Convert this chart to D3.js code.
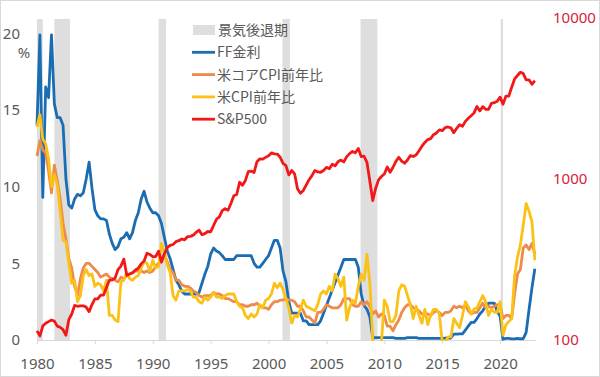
<!DOCTYPE html>
<html>
<head>
<meta charset="utf-8">
<script src="https://cdn.jsdelivr.net/npm/d3@7"></script>
<style>
  body { margin: 0; background: #fff; }
  svg { display: block; font-family: 'Noto Sans', 'Noto Sans CJK JP', sans-serif; }
</style>
</head>
<body>
<div id="svg-container"></div>
<script>
// quarterly points, Jan / Apr / Jul / Oct, 1980 .. 2023 Q1
const startYear = 1980

const ffRate = [
  14.0, 19.9, 9.3, 16.5,  15.8, 19.9, 15.4, 14.5,  14.5, 14.0, 10.5, 8.8,  8.6, 9.2, 9.5, 9.4,
  9.6, 10.5, 11.6, 9.9,  8.5, 8.1, 7.9, 7.9,  7.8, 6.9, 6.3, 5.9,  6.1, 6.6, 6.7, 7.0,
  6.6, 7.0, 7.8, 8.3,  9.2, 9.7, 9.0, 8.6,  8.3, 8.3, 8.1, 7.6,  6.7, 5.8, 5.3, 4.6,
  3.9, 3.6, 3.2, 3.0,  3.0, 3.0, 3.0, 3.0,  3.1, 3.7, 4.3, 4.8,  5.6, 6.0, 5.8, 5.7,
  5.5, 5.25, 5.25, 5.25,  5.25, 5.5, 5.5, 5.5,  5.5, 5.5, 5.5, 5.0,  4.75, 4.75, 5.0, 5.25,
  5.5, 6.0, 6.5, 6.5,  6.0, 4.5, 3.8, 2.5,  1.75, 1.75, 1.75, 1.75,  1.25, 1.25, 1.0, 1.0,
  1.0, 1.0, 1.25, 1.75,  2.25, 2.75, 3.25, 3.75,  4.25, 4.75, 5.25, 5.25,  5.25, 5.25, 5.25, 4.75,
  3.0, 2.25, 2.0, 1.5,  0.15, 0.15, 0.15, 0.15,  0.15, 0.15, 0.15, 0.15,  0.1, 0.1, 0.1, 0.1,
  0.15, 0.15, 0.15, 0.15,  0.1, 0.1, 0.1, 0.1,  0.1, 0.1, 0.1, 0.1,  0.1, 0.12, 0.13, 0.13,
  0.38, 0.38, 0.4, 0.4,  0.65, 0.9, 1.15, 1.15,  1.4, 1.7, 1.9, 2.2,  2.4, 2.4, 2.4, 1.85,
  1.55, 0.05, 0.1, 0.1,  0.08, 0.07, 0.1, 0.08,  0.08, 0.5, 2.0, 3.4,
  4.65,
]

const coreCpi = [
  12.0, 13.0, 12.4, 12.2,  11.0, 9.6, 11.4, 10.4,  9.2, 7.6, 6.6, 5.3,  4.7, 3.5, 2.9, 4.0,
  4.7, 5.0, 5.0, 4.8,  4.6, 4.4, 4.1, 4.2,  4.3, 4.1, 4.0, 3.9,  3.8, 4.1, 4.0, 4.2,
  4.3, 4.4, 4.5, 4.5,  4.5, 4.4, 4.5, 4.4,  4.5, 4.8, 5.0, 5.3,  5.6, 5.1, 4.6, 4.4,
  3.9, 3.9, 3.6, 3.5,  3.5, 3.4, 3.2, 3.1,  2.9, 2.8, 2.9, 2.9,  2.9, 3.1, 3.0, 3.0,
  2.9, 2.7, 2.7, 2.6,  2.5, 2.5, 2.3, 2.3,  2.2, 2.2, 2.3, 2.3,  2.4, 2.2, 2.1, 2.1,
  2.0, 2.3, 2.5, 2.5,  2.6, 2.6, 2.7, 2.6,  2.6, 2.5, 2.2, 2.2,  1.9, 1.5, 1.5, 1.3,
  1.1, 1.8, 1.8, 2.0,  2.3, 2.2, 2.1, 2.1,  2.1, 2.3, 2.7, 2.7,  2.7, 2.3, 2.2, 2.2,
  2.5, 2.3, 2.5, 2.2,  1.7, 1.9, 1.5, 1.7,  1.6, 0.9, 0.9, 0.6,  1.0, 1.3, 1.8, 2.1,
  2.3, 2.3, 2.1, 2.0,  1.9, 1.7, 1.7, 1.7,  1.6, 1.8, 1.9, 1.8,  1.6, 1.8, 1.8, 1.9,
  2.2, 2.1, 2.2, 2.1,  2.3, 1.9, 1.7, 1.8,  1.8, 2.1, 2.4, 2.1,  2.2, 2.1, 2.2, 2.3,
  2.3, 1.4, 1.6, 1.6,  1.4, 3.0, 4.3, 4.6,  6.0, 6.2, 5.9, 6.3,
  5.6,
]

const cpi = [
  13.9, 14.7, 13.1, 12.8,  11.8, 10.0, 10.8, 10.1,  8.4, 6.5, 6.4, 5.0,  3.7, 3.9, 2.5, 2.9,
  4.2, 4.6, 4.2, 4.3,  3.5, 3.7, 3.6, 3.2,  3.9, 1.6, 1.6, 1.3,  1.2, 3.8, 3.9, 4.4,
  4.0, 3.9, 4.1, 4.2,  4.7, 5.1, 5.0, 4.5,  5.2, 4.7, 4.8, 6.3,  5.7, 4.9, 4.4, 2.9,
  2.6, 3.2, 3.2, 3.2,  3.3, 3.2, 2.8, 2.8,  2.5, 2.4, 2.8, 2.6,  2.8, 3.1, 2.8, 2.8,
  2.7, 2.9, 3.0, 3.0,  3.0, 2.5, 2.2, 2.1,  1.6, 1.4, 1.7, 1.5,  1.7, 2.3, 2.1, 2.6,
  2.7, 3.0, 3.7, 3.4,  3.7, 3.3, 2.7, 2.1,  1.1, 1.6, 1.5, 2.0,  2.6, 2.2, 2.1, 2.0,
  1.9, 2.3, 3.0, 3.2,  3.0, 3.5, 3.2, 4.3,  4.0, 3.5, 4.1, 1.3,  2.1, 2.6, 2.4, 3.5,
  4.3, 3.9, 5.6, 3.7,  0.0, -0.7, -2.1, -0.2,  2.6, 2.2, 1.2, 1.2,  1.6, 3.2, 3.6, 3.5,
  2.9, 2.3, 1.4, 2.2,  1.6, 1.1, 2.0, 1.0,  1.6, 2.0, 2.0, 1.7,  -0.1, -0.2, 0.2, 0.2,
  1.4, 1.1, 0.8, 1.6,  2.5, 2.2, 1.7, 2.0,  2.1, 2.5, 2.9, 2.5,  1.6, 2.0, 1.8, 1.8,
  2.5, 0.3, 1.0, 1.2,  1.4, 4.2, 5.4, 6.2,  7.5, 8.9, 8.4, 7.7,
  5.2,
]

const sp500 = [
  114, 106, 122, 127,  130, 133, 131, 122,  120, 116, 107, 134,  145, 164, 162, 163,
  163, 160, 150, 166,  180, 180, 190, 190,  212, 235, 236, 243,  274, 288, 318, 252,
  257, 261, 272, 279,  297, 310, 346, 340,  329, 330, 356, 304,  343, 375, 387, 392,
  408, 414, 424, 419,  438, 440, 448, 467,  481, 450, 458, 472,  470, 514, 562, 582,
  636, 654, 640, 705,  786, 801, 954, 914,  980, 1112, 1120, 1098,  1280, 1335, 1329, 1362,
  1394, 1452, 1431, 1429,  1366, 1249, 1211, 1060,  1130, 1077, 870, 815,  848, 916, 990, 1050,
  1131, 1107, 1101, 1130,  1181, 1157, 1234, 1207,  1280, 1311, 1277, 1377,  1438, 1482, 1455, 1549,
  1378, 1385, 1267, 968,  735, 873, 987, 1036,  1074, 1187, 1102, 1183,  1286, 1364, 1292, 1253,
  1312, 1398, 1379, 1412,  1498, 1598, 1686, 1757,  1783, 1884, 1931, 2018,  1995, 2086, 2104, 2079,
  1940, 2065, 2173, 2126,  2279, 2384, 2470, 2575,  2824, 2648, 2816, 2711,  2704, 2946, 2980, 3038,
  3226, 2912, 3271, 3270,  3714, 4181, 4395, 4605,  4516, 4132, 4130, 3872,
  4077,
]

const recessions = [
  [1980.0, 1980.5],
  [1981.5, 1982.85],
  [1990.5, 1991.15],
  [2001.2, 2001.85],
  [2007.95, 2009.4],
  [2020.05, 2020.25],
]

const yearTicks = [1980, 1985, 1990, 1995, 2000, 2005, 2010, 2015, 2020]
const pctTicks = [0, 5, 10, 15, 20]
const spTicks = [100, 1000, 10000]

const seriesNames = ['FF金利', '米コアCPI前年比', '米CPI前年比', 'S&P500']
const seriesColors = ['#1b6db3', '#ec8b4c', '#fbc117', '#f21818']

var margin = { top: 18, right: 64, bottom: 37, left: 37 }
const svgWidth = 600,
  svgHeight = 377
const plotRight = svgWidth - margin.right
const plotBottom = svgHeight - margin.bottom

const svg = d3
  .select('#svg-container')
  .append('svg')
  .attr('width', svgWidth)
  .attr('height', svgHeight)

svg
  .append('rect')
  .attr('x', 0.5)
  .attr('y', 0.5)
  .attr('width', svgWidth - 1)
  .attr('height', svgHeight - 1)
  .attr('fill', '#fff')
  .attr('stroke', '#d9d9d9')

var xScale = d3
  .scaleLinear()
  .domain([1980, 2023.1])
  .range([margin.left, plotRight])

var yLeft = d3.scaleLinear().domain([0, 21]).range([plotBottom, margin.top])
var yRight = d3
  .scaleLog()
  .domain([100, 10000])
  .range([plotBottom, margin.top])

const dateOf = i => startYear + i / 4

// recession bands
svg
  .append('g')
  .selectAll('rect')
  .data(recessions)
  .enter()
  .append('rect')
  .attr('x', d => xScale(d[0]))
  .attr('width', d => xScale(d[1]) - xScale(d[0]))
  .attr('y', margin.top + 1)
  .attr('height', plotBottom - margin.top - 1)
  .attr('fill', '#dedede')

// x axis
svg
  .append('g')
  .attr('transform', `translate(0, ${plotBottom})`)
  .call(
    d3
      .axisBottom(xScale)
      .tickValues(yearTicks)
      .tickFormat(d3.format('d'))
      .tickSize(4)
      .tickPadding(14),
  )
  .call(g => g.select('.domain').attr('stroke', '#d9d9d9').attr('d', `M${margin.left},0.5H${plotRight}`))
  .call(g => g.selectAll('.tick line').attr('stroke', '#d9d9d9'))
  .call(g =>
    g
      .selectAll('.tick text')
      .attr('fill', '#595959')
      .style('font-size', '15px')
      .style('font-family', 'Noto Sans'),
  )

// left axis
svg
  .append('g')
  .attr('transform', `translate(${margin.left}, 0)`)
  .call(d3.axisLeft(yLeft).tickValues(pctTicks).tickSize(0).tickPadding(17))
  .call(g => g.select('.domain').remove())
  .call(g =>
    g
      .selectAll('.tick text')
      .attr('fill', '#595959')
      .style('font-size', '15px')
      .style('font-family', 'Noto Sans'),
  )

svg
  .append('text')
  .attr('x', 24)
  .attr('y', 58)
  .attr('text-anchor', 'middle')
  .attr('fill', '#595959')
  .style('font-size', '15px')
  .text('%')

// right axis (log)
svg
  .append('g')
  .attr('transform', `translate(${plotRight}, 0)`)
  .call(
    d3
      .axisRight(yRight)
      .tickValues(spTicks)
      .tickFormat(d3.format('d'))
      .tickSize(0)
      .tickPadding(17),
  )
  .call(g => g.select('.domain').remove())
  .call(g =>
    g
      .selectAll('.tick text')
      .attr('fill', '#d8223a')
      .style('font-size', '15px')
      .style('font-family', 'Noto Sans'),
  )

svg
  .append('clipPath')
  .attr('id', 'plot-clip')
  .append('rect')
  .attr('x', margin.left - 2)
  .attr('y', margin.top)
  .attr('width', plotRight - margin.left + 4)
  .attr('height', plotBottom - margin.top + 1)

const lines = svg.append('g').attr('clip-path', 'url(#plot-clip)')

const pctLine = d3
  .line()
  .x((d, i) => xScale(dateOf(i)))
  .y(d => yLeft(d))

const spLine = d3
  .line()
  .x((d, i) => xScale(dateOf(i)))
  .y(d => yRight(d))

const allSeries = [
  { values: ffRate, path: pctLine },
  { values: coreCpi, path: pctLine },
  { values: cpi, path: pctLine },
  { values: sp500, path: spLine },
]

allSeries.forEach((s, i) => {
  lines
    .append('path')
    .datum(s.values)
    .attr('d', s.path)
    .attr('fill', 'none')
    .attr('stroke', seriesColors[i])
    .attr('stroke-width', 2.8)
    .attr('stroke-linejoin', 'round')
})

// legend
const legend = svg
  .append('g')
  .attr('transform', 'translate(192, 30)')
  .style('font-family', "'Noto Sans CJK JP', sans-serif")
  .style('font-size', '14px')

legend
  .append('rect')
  .attr('x', 1)
  .attr('y', -5)
  .attr('width', 22)
  .attr('height', 10)
  .attr('fill', '#dedede')

legend
  .append('text')
  .attr('x', 26)
  .attr('dy', '0.35em')
  .attr('fill', '#595959')
  .text('景気後退期')

const legendRows = legend
  .selectAll('.legend-row')
  .data(seriesNames)
  .enter()
  .append('g')
  .attr('class', 'legend-row')
  .attr('transform', (d, i) => `translate(0, ${(i + 1) * 22.3})`)

legendRows
  .append('line')
  .attr('x1', 0)
  .attr('x2', 23)
  .attr('stroke', (d, i) => seriesColors[i])
  .attr('stroke-width', 2.8)

legendRows
  .append('text')
  .attr('x', 25)
  .attr('dy', '0.35em')
  .attr('fill', '#595959')
  .text(d => d)
</script>
</body>
</html>
